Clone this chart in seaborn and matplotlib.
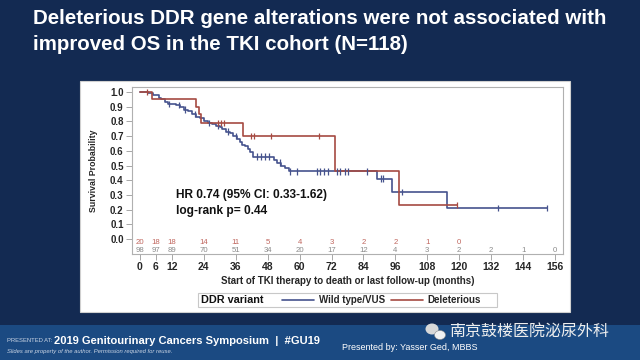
import numpy as np
import pandas as pd
import matplotlib
matplotlib.use("Agg")
import matplotlib.pyplot as plt
import seaborn as sns
from matplotlib.patches import Rectangle, Ellipse
from matplotlib.lines import Line2D

# ---------------- data ----------------
wt_time = [0, 3.0, 5.0, 7.0, 8.0, 9.5, 10.5, 13.5, 15.0, 16.5, 18.0, 19.5, 21.0,
           22.5, 24.0, 25.5, 27.0, 28.5, 30.0, 31.0, 32.5, 34.0, 35.0, 36.5,
           37.5, 38.5, 39.5, 40.5, 41.5, 42.5, 50.5, 51.5, 53.0, 54.5, 56.0,
           89.2, 94.9, 115.3, 153.0]
wt_surv = [1.00, 0.99, 0.98, 0.96, 0.95, 0.93, 0.92, 0.91, 0.90, 0.88, 0.87, 0.85,
           0.83, 0.82, 0.80, 0.79, 0.78, 0.77, 0.76, 0.75, 0.73, 0.72, 0.70, 0.68,
           0.66, 0.64, 0.63, 0.61, 0.59, 0.56, 0.54, 0.52, 0.50, 0.48, 0.46,
           0.41, 0.32, 0.21, 0.21]
wt_cens = [11, 14.5, 17, 20.5, 26, 29.5, 33, 36, 44, 45.5, 47, 48.5, 52.5, 56.5,
           59, 66.4, 67.7, 69, 70.8, 74, 75.2, 77.1, 78.3, 85.5, 90.5, 91.5, 98.4,
           134.7, 153]

del_time = [0, 4.5, 21.1, 22.0, 23.0, 38.6, 73.3, 97.5, 119.0]
del_surv = [1.00, 0.95, 0.90, 0.85, 0.79, 0.70, 0.46, 0.23, 0.23]
del_cens = [2.5, 29.4, 30.3, 31.6, 41.6, 42.9, 49.1, 67.4, 119]

risk_times_del = [0, 6, 12, 24, 36, 48, 60, 72, 84, 96, 108, 120]
risk_del = [20, 18, 18, 14, 11, 5, 4, 3, 2, 2, 1, 0]
risk_times_wt = [0, 6, 12, 24, 36, 48, 60, 72, 84, 96, 108, 120, 132, 144, 156]
risk_wt = [98, 97, 89, 70, 51, 34, 20, 17, 12, 4, 3, 2, 2, 1, 0]

xticks = [0, 6, 12, 24, 36, 48, 60, 72, 84, 96, 108, 120, 132, 144, 156]
yticks = [0.0, 0.1, 0.2, 0.3, 0.4, 0.5, 0.6, 0.7, 0.8, 0.9, 1.0]

groups = ["Wild type/VUS", "Deleterious"]
colors = {"Wild type/VUS": "#46538d", "Deleterious": "#a64a42"}

# ---------------- styling ----------------
sns.set_theme(style="white")
plt.rcParams["font.family"] = ["Liberation Sans", "DejaVu Sans"]

NAVY = "#132a52"
fig = plt.figure(figsize=(6.4, 3.6), dpi=100, facecolor=NAVY)

def px(x0, y0, w, h):
    return (x0 / 640, 1 - (y0 + h) / 360, w / 640, h / 360)

# bottom band
fig.patches.append(Rectangle((0, 0), 1, 35 / 360, transform=fig.transFigure,
                             facecolor="#1b4a82", edgecolor="none", zorder=-2))
# white chart panel
l, b, w, h = px(80, 81, 490, 231)
fig.patches.append(Rectangle((l, b), w, h, transform=fig.transFigure,
                             facecolor="white", edgecolor="#d0d0d0", lw=0.8,
                             zorder=-1))

ax = fig.add_axes(px(132, 87, 431, 167))
ax.set_zorder(2)
ax.set_facecolor("white")

def step_df(times, surv, name):
    return pd.DataFrame({"time": times, "surv": surv, "group": name})

df = pd.concat([step_df(wt_time, wt_surv, groups[0]),
                step_df(del_time, del_surv, groups[1])], ignore_index=True)

sns.lineplot(data=df, x="time", y="surv", hue="group", palette=colors,
             drawstyle="steps-post", estimator=None, linewidth=1.2,
             legend=False, ax=ax)

def level(times, surv, t):
    i = np.searchsorted(times, t, side="right") - 1
    return surv[i]

cens_rows = []
for t in wt_cens:
    cens_rows.append((t, level(wt_time, wt_surv, t), groups[0]))
for t in del_cens:
    cens_rows.append((t, level(del_time, del_surv, t), groups[1]))
cdf = pd.DataFrame(cens_rows, columns=["time", "surv", "group"])
sns.scatterplot(data=cdf, x="time", y="surv", hue="group", palette=colors,
                marker="|", s=22, linewidth=0.9, legend=False, ax=ax, zorder=3)

# at-risk numbers
for t, n in zip(risk_times_del, risk_del):
    ax.text(t, -0.027, str(n), ha="center", va="center", fontsize=5.6,
            color="#c0665e")
for t, n in zip(risk_times_wt, risk_wt):
    ax.text(t, -0.078, str(n), ha="center", va="center", fontsize=5.6,
            color="#8a8a8a")

ax.text(13.5, 0.30, "HR 0.74 (95% CI: 0.33-1.62)", fontsize=8.6, fontweight="bold",
        color="#111111", va="center", ha="left")
ax.text(13.5, 0.19, "log-rank p= 0.44", fontsize=8.6, fontweight="bold",
        color="#111111", va="center", ha="left")

ax.set_xlim(-3, 159)
ax.set_ylim(-0.102, 1.034)
ax.set_xticks(xticks)
ax.set_xticklabels([str(v) for v in xticks], fontsize=7.5, fontweight="bold")
ax.set_yticks(yticks)
ax.set_yticklabels([f"{v:.1f}" for v in yticks], fontsize=7, fontweight="bold")
ax.tick_params(axis="both", length=4, width=0.6, color="#999999", pad=2,
               direction="out", bottom=True, left=True)
ax.set_xlabel("Start of TKI therapy to death or last follow-up (months)",
              fontsize=7, fontweight="bold", labelpad=3)
ax.set_ylabel("Survival Probability", fontsize=6.3, fontweight="bold", labelpad=9)
for s in ax.spines.values():
    s.set_color("#b0b0b0")
    s.set_linewidth(0.8)

# legend with inline title, framed
fig.patches.append(Rectangle((198 / 640, 1 - 307 / 360), 299 / 640, 14 / 360,
                             transform=fig.transFigure, facecolor="white",
                             edgecolor="#c8c8c8", lw=0.8, zorder=1))
fig.text(201 / 640, 1 - 300 / 360, "DDR variant", fontsize=7.8, fontweight="bold",
         va="center", ha="left", color="#111111")
handles = [Line2D([], [], color=colors[g], lw=1.2) for g in groups]
fig.legend(handles, groups, ncol=2, frameon=False, loc="center left",
           bbox_to_anchor=(282 / 640, 1 - 300 / 360), handlelength=3.3,
           handletextpad=0.5, columnspacing=0.6,
           prop={"size": 7, "weight": "bold"}, borderaxespad=0, borderpad=0)

# title
fig.text(33 / 640, 1 - 19 / 360,
         "Deleterious DDR gene alterations were not associated with",
         fontsize=14.8, fontweight="bold", color="white", va="center", ha="left")
fig.text(33 / 640, 1 - 45 / 360, "improved OS in the TKI cohort (N=118)",
         fontsize=14.8, fontweight="bold", color="white", va="center", ha="left")

# footer
fig.text(7 / 640, 1 - 341 / 360, "PRESENTED AT:", fontsize=4.2, color="#c9d4e4",
         va="center", ha="left")
fig.text(54 / 640, 1 - 341 / 360,
         "2019 Genitourinary Cancers Symposium  |  #GU19", fontsize=8,
         fontweight="bold", color="white", va="center", ha="left")
fig.text(7 / 640, 1 - 352 / 360,
         "Slides are property of the author. Permission required for reuse.",
         fontsize=4.2, style="italic", color="#c9d4e4", va="center", ha="left")
fig.text(342 / 640, 1 - 347 / 360, "Presented by: Yasser Ged, MBBS", fontsize=6.5,
         color="white", va="center", ha="left")
fig.patches.append(Ellipse((432 / 640, 1 - 329 / 360), 13 / 640, 11 / 360,
                           transform=fig.transFigure, facecolor="#d8d8d8",
                           edgecolor="none", zorder=2))
fig.patches.append(Ellipse((440 / 640, 1 - 335 / 360), 11 / 640, 9 / 360,
                           transform=fig.transFigure, facecolor="#f2f2f2",
                           edgecolor="#888888", lw=0.4, zorder=3))
fig.text(449 / 640, 1 - 331 / 360, "南京鼓楼医院泌尿外科", fontsize=11.5,
         color="#eeeeee", va="center", ha="left",
         family=["Noto Sans CJK SC", "DejaVu Sans"])

fig.savefig("out.png", dpi=100, facecolor=NAVY)
